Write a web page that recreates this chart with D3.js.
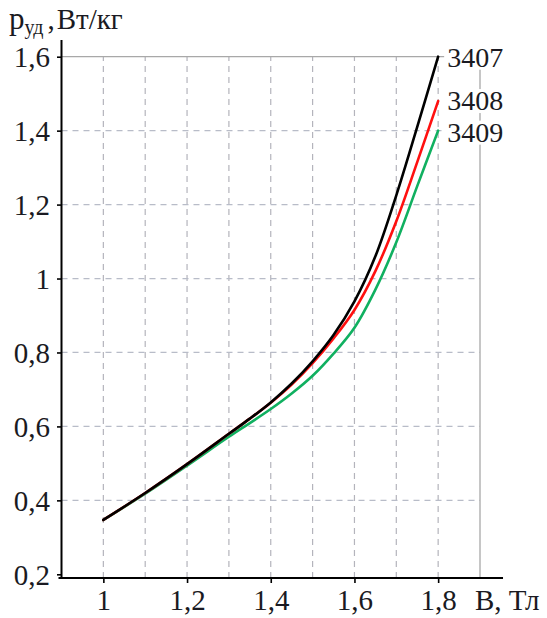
<!DOCTYPE html>
<html>
<head>
<meta charset="utf-8">
<script src="https://cdn.jsdelivr.net/npm/d3@7"></script>
<style>
  html, body { margin: 0; padding: 0; background: #fff; }
  svg { display: block; }
  text { font-family: "Liberation Serif", "Times New Roman", serif; fill: #1a1a22; }
</style>
</head>
<body>
<svg id="chart" width="547" height="618"></svg>
<script>
// Magnetic induction B, T
const inductionB = [1.0, 1.1, 1.2, 1.3, 1.35, 1.4, 1.45, 1.5, 1.55, 1.6, 1.65, 1.7, 1.75, 1.8];
// Specific losses, W/kg, per steel grade
const loss3407 = [0.347, 0.42, 0.498, 0.58, 0.621, 0.665, 0.716, 0.776, 0.847, 0.938, 1.06, 1.225, 1.41, 1.60];
const loss3408 = [0.347, 0.42, 0.498, 0.58, 0.621, 0.664, 0.713, 0.771, 0.838, 0.915, 1.02, 1.155, 1.315, 1.48];
const loss3409 = [0.347, 0.418, 0.494, 0.572, 0.609, 0.647, 0.689, 0.737, 0.797, 0.867, 0.97, 1.098, 1.25, 1.40];
const gradeNames = ["3407", "3408", "3409"];
const gradeColors = ["#000000", "#ff1010", "#10b060"];
const labelShift = [0, -1, 1];

const xTicks = [1.0, 1.2, 1.4, 1.6, 1.8];
const xTickLabels = ["1", "1,2", "1,4", "1,6", "1,8"];
const yTicks = [0.2, 0.4, 0.6, 0.8, 1.0, 1.2, 1.4, 1.6];
const yTickLabels = ["0,2", "0,4", "0,6", "0,8", "1", "1,2", "1,4", "1,6"];
const xGrid = [1.0, 1.1, 1.2, 1.3, 1.4, 1.5, 1.6, 1.7, 1.8];
const yGrid = [0.4, 0.6, 0.8, 1.0, 1.2, 1.4];

const svg = d3.select("#chart");
const x = d3.scaleLinear().domain([0.9, 1.9]).range([61.5, 480]);
const y = d3.scaleLinear().domain([0.19, 1.6]).range([578, 56.7]);
const [x0, x1] = x.range();
const [y0, y1] = y.range();

// Grid
const grid = svg.append("g");
grid.selectAll("line.gx").data(xGrid).join("line")
  .attr("x1", d => x(d)).attr("x2", d => x(d))
  .attr("y1", y0).attr("y2", y1)
  .attr("stroke", "#b4b4bc").attr("stroke-width", 1.2)
  .attr("stroke-dasharray", "6,5");
grid.selectAll("line.gy").data(yGrid).join("line")
  .attr("x1", x0).attr("x2", x1)
  .attr("y1", d => y(d)).attr("y2", d => y(d))
  .attr("stroke", "#b8bcc8").attr("stroke-width", 1.2)
  .attr("stroke-dasharray", "6,5");
// Solid frame on top and right
grid.append("line")
  .attr("x1", x0).attr("x2", x1).attr("y1", y(1.6)).attr("y2", y(1.6))
  .attr("stroke", "#a8a8a8").attr("stroke-width", 1.3);
grid.append("line")
  .attr("x1", x1).attr("x2", x1).attr("y1", y0).attr("y2", y(1.6))
  .attr("stroke", "#a8a8a8").attr("stroke-width", 1.3);

// Curves
const series = [loss3407, loss3408, loss3409];
const line = d3.line()
  .x((d, i) => x(inductionB[i]))
  .y(d => y(d))
  .curve(d3.curveCatmullRom.alpha(0.5));
// green first, black last on top
[2, 1, 0].forEach(k => {
  svg.append("path")
    .datum(series[k])
    .attr("d", line)
    .attr("fill", "none")
    .attr("stroke", gradeColors[k])
    .attr("stroke-width", 2.6)
    .attr("stroke-linejoin", "round")
    .attr("stroke-linecap", "round");
});

// Axes
const xAxis = d3.axisBottom(x).tickValues(xTicks).tickSize(5).tickSizeOuter(0)
  .tickFormat((d, i) => xTickLabels[i]);
const gx = svg.append("g").attr("transform", `translate(0,${y0})`).call(xAxis);
gx.select(".domain").remove();
gx.selectAll(".tick line").attr("stroke", "#000").attr("stroke-width", 1.6);
gx.selectAll(".tick text").attr("y", 32).attr("dy", 0)
  .style("font-size", "29px").style("font-family", "Liberation Serif").attr("fill", "#1a1a22");

const yAxis = d3.axisLeft(y).tickValues(yTicks).tickSize(4.5).tickPadding(7).tickSizeOuter(0)
  .tickFormat((d, i) => yTickLabels[i]);
const gy = svg.append("g").attr("transform", `translate(${x0},0)`).call(yAxis);
gy.select(".domain").remove();
gy.selectAll(".tick line").attr("stroke", "#000").attr("stroke-width", 1.6);
gy.selectAll(".tick text").attr("dy", "0.34em")
  .style("font-size", "29px").style("font-family", "Liberation Serif").attr("fill", "#1a1a22");

// Axis lines
svg.append("line")
  .attr("x1", x0 - 3).attr("x2", x(1.955)).attr("y1", y0).attr("y2", y0)
  .attr("stroke", "#000").attr("stroke-width", 2);
svg.append("line")
  .attr("x1", x0).attr("x2", x0).attr("y1", y0).attr("y2", y(1.645))
  .attr("stroke", "#000").attr("stroke-width", 2);

// Axis titles
const yt = svg.append("text").attr("x", 9).attr("y", 29);
yt.append("tspan").text("p").style("font-size", "31px");
yt.append("tspan").text("уд").attr("dy", 5).style("font-size", "20px");
yt.append("tspan").text(",").attr("dx", 4).attr("dy", -5).style("font-size", "29px");
yt.append("tspan").text("Вт/кг").attr("dx", 2).style("font-size", "29px");

svg.append("text").attr("x", 475).attr("y", 610)
  .style("font-size", "29px").text("B, Тл");

// Grade labels at curve ends
gradeNames.forEach((name, k) => {
  const vals = series[k];
  const yy = y(vals[vals.length - 1]) + labelShift[k];
  const xx = x(inductionB[inductionB.length - 1]);
  svg.append("rect")
    .attr("x", xx + 6).attr("y", yy - 11).attr("width", 68).attr("height", 24)
    .attr("fill", "#fff");
  svg.append("text")
    .attr("x", xx + 9).attr("y", yy + 10)
    .style("font-size", "28px")
    .text(name);
});
</script>
</body>
</html>
